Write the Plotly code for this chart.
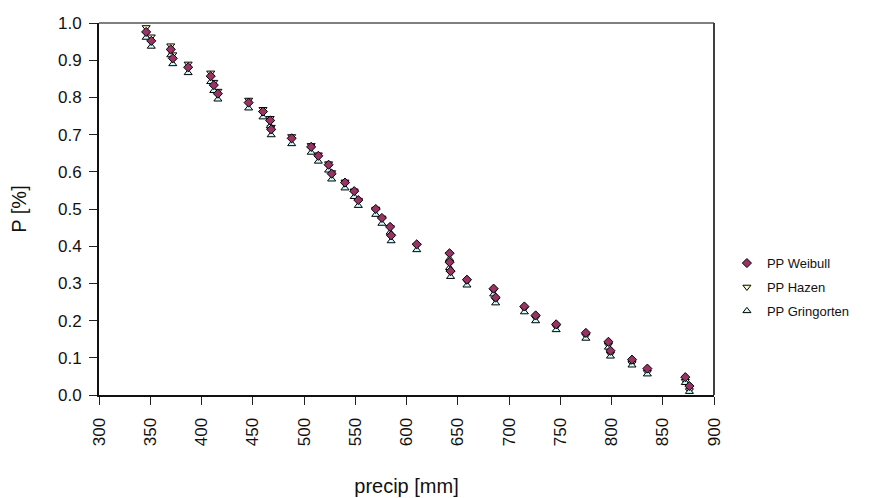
import plotly.graph_objects as go

precip = [346, 351, 370, 372, 387, 409, 412, 416, 446, 460, 467, 468, 488, 507,
          514, 524, 527, 540, 549, 553, 570, 576, 584, 585, 610, 642, 642, 643,
          659, 685, 687, 715, 726, 746, 775, 797, 799, 820, 835, 872, 876]

pp_weibull = [0.976, 0.952, 0.929, 0.905, 0.881, 0.857, 0.833, 0.810, 0.786, 0.762,
              0.738, 0.714, 0.690, 0.667, 0.643, 0.619, 0.595, 0.571, 0.548, 0.524,
              0.500, 0.476, 0.452, 0.429, 0.405, 0.381, 0.357, 0.333, 0.310, 0.286,
              0.262, 0.238, 0.214, 0.190, 0.167, 0.143, 0.119, 0.095, 0.071, 0.048,
              0.024]

pp_hazen = [0.988, 0.963, 0.939, 0.915, 0.890, 0.866, 0.841, 0.817, 0.793, 0.768,
            0.744, 0.720, 0.695, 0.671, 0.646, 0.622, 0.598, 0.573, 0.549, 0.524,
            0.500, 0.476, 0.451, 0.427, 0.402, 0.378, 0.354, 0.329, 0.305, 0.280,
            0.256, 0.232, 0.207, 0.183, 0.159, 0.134, 0.110, 0.085, 0.061, 0.037,
            0.012]

pp_gringorten = [0.961, 0.937, 0.914, 0.890, 0.866, 0.842, 0.818, 0.795, 0.771, 0.747,
                 0.723, 0.699, 0.675, 0.652, 0.628, 0.604, 0.580, 0.556, 0.533, 0.509,
                 0.485, 0.461, 0.437, 0.414, 0.390, 0.366, 0.342, 0.318, 0.295, 0.271,
                 0.247, 0.223, 0.199, 0.175, 0.152, 0.128, 0.104, 0.080, 0.056, 0.033,
                 0.009]

x_ticks = [300, 350, 400, 450, 500, 550, 600, 650, 700, 750, 800, 850, 900]
y_ticks = [0.0, 0.1, 0.2, 0.3, 0.4, 0.5, 0.6, 0.7, 0.8, 0.9, 1.0]

FONT = "Liberation Sans, Arial, sans-serif"

fig = go.Figure()

fig.add_trace(go.Scatter(
    x=precip, y=pp_hazen, mode="markers", name="PP Hazen",
    legendgroup="h", legendrank=2, cliponaxis=False,
    marker=dict(symbol="triangle-down", size=7, color="#FFFFCC",
                line=dict(color="#000000", width=1))))
fig.add_trace(go.Scatter(
    x=precip, y=pp_gringorten, mode="markers", name="PP Gringorten",
    legendgroup="g", legendrank=3, cliponaxis=False,
    marker=dict(symbol="triangle-up", size=7, color="#CCFFFF",
                line=dict(color="#000000", width=1))))
fig.add_trace(go.Scatter(
    x=precip, y=pp_weibull, mode="markers", name="PP Weibull",
    legendgroup="w", legendrank=1, cliponaxis=False,
    marker=dict(symbol="diamond", size=7, color="#993366",
                line=dict(color="#000000", width=1))))

fig.update_layout(
    width=883, height=498,
    margin=dict(l=99, r=169, t=23, b=103),
    paper_bgcolor="white", plot_bgcolor="white",
    font=dict(family=FONT, color="#111111"),
    showlegend=True,
    legend=dict(x=1.021, xanchor="left", y=0.29, yanchor="middle",
                traceorder="grouped", tracegroupgap=4,
                font=dict(size=13, family=FONT, color="#111111"),
                bgcolor="rgba(0,0,0,0)", itemwidth=30),
    xaxis=dict(range=[300, 900], tickvals=x_ticks, ticktext=[str(v) for v in x_ticks],
               tickangle=-90, ticks="outside", ticklen=8, tickwidth=1,
               tickcolor="#222222", showline=True, linecolor="#111111", linewidth=2,
               showgrid=False, zeroline=False, tickfont=dict(size=17),
               ticklabelstandoff=6, automargin=False,
               title=dict(text="precip [mm]", font=dict(size=20), standoff=34)),
    yaxis=dict(range=[0, 1], tickvals=y_ticks, ticktext=[f"{v:.1f}" for v in y_ticks],
               ticks="outside", ticklen=8, tickwidth=1, tickcolor="#222222",
               showline=True, linecolor="#111111", linewidth=2,
               showgrid=False, zeroline=False, tickfont=dict(size=17),
               ticklabelstandoff=4, automargin=False,
               title=dict(text="P [%]", font=dict(size=20), standoff=26)),
    shapes=[
        dict(type="line", xref="paper", yref="paper", x0=0, x1=1, y0=1, y1=1,
             line=dict(color="#808080", width=2)),
        dict(type="line", xref="paper", yref="paper", x0=1, x1=1, y0=0, y1=1,
             line=dict(color="#404040", width=2)),
    ],
)

fig.write_html("out.html")
